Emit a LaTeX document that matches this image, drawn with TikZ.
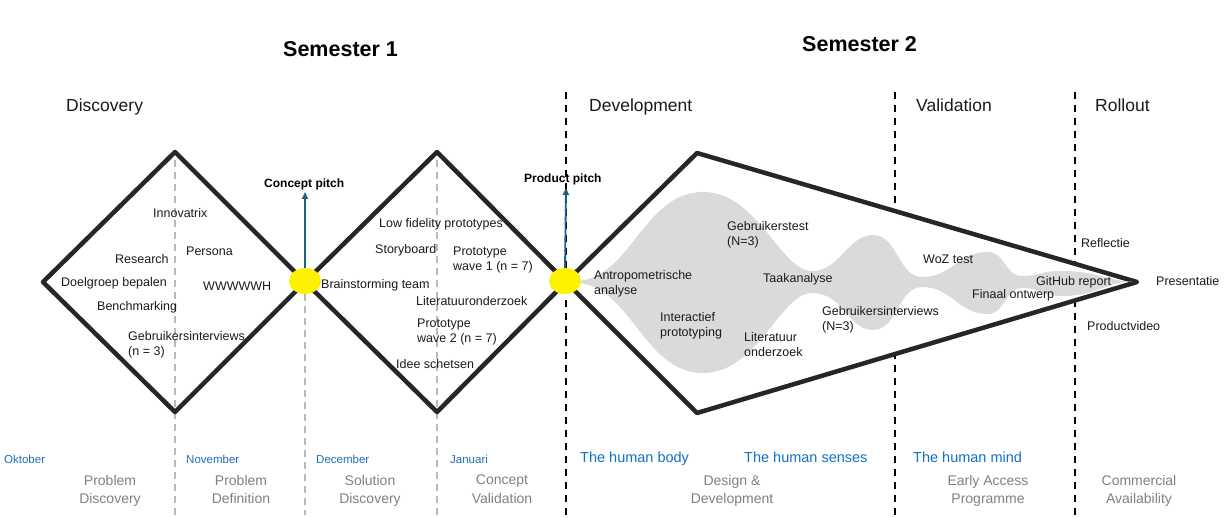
\documentclass[tikz,border=0pt]{standalone}
\usepackage{fontspec}
\setmainfont{Liberation Sans}
\usetikzlibrary{arrows.meta,shapes.geometric}

\definecolor{ink}{HTML}{262626}
\definecolor{txt}{HTML}{1A1A1A}
\definecolor{blobgray}{HTML}{DADADA}
\definecolor{pitchblue}{HTML}{1F5F80}
\definecolor{monthblue}{HTML}{1F6FB8}
\definecolor{themeblue}{HTML}{1170C4}
\definecolor{phasegray}{HTML}{808080}
\definecolor{guidegray}{HTML}{B8B8B8}
\definecolor{gateyellow}{HTML}{FFF200}

\tikzset{
  lbl/.style={anchor=base west, inner sep=0pt, text=txt, font=\fontsize{12.5}{15}\selectfont},
  lbltwo/.style={anchor=north west, inner sep=0pt, text=txt, align=left, font=\fontsize{12.5}{15}\selectfont},
  hdr/.style={anchor=base west, inner sep=0pt, text=txt, font=\fontsize{17.5}{20}\selectfont},
  sem/.style={anchor=base west, inner sep=0pt, text=black, font=\bfseries\fontsize{21.5}{24}\selectfont},
  pitch/.style={anchor=base west, inner sep=0pt, text=black, font=\bfseries\fontsize{12}{14}\selectfont},
  month/.style={anchor=base west, inner sep=0pt, text=monthblue, font=\fontsize{11.5}{13}\selectfont},
  theme/.style={anchor=base west, inner sep=0pt, text=themeblue, font=\fontsize{14.5}{17}\selectfont},
  phase/.style={anchor=north, inner sep=0pt, align=center, text=phasegray, font=\fontsize{14}{18.5}\selectfont},
  guide/.style={guidegray, line width=1.8pt, dash pattern=on 7pt off 5pt},
  border/.style={black, line width=2.6pt, dash pattern=on 7pt off 6pt},
  outline/.style={ink, line width=4.5pt, line join=round},
  gate/.style={ellipse, fill=gateyellow, minimum width=32pt, minimum height=26pt, inner sep=0pt},
  pitcharrow/.style={pitchblue, line width=1.8pt, -{Triangle[length=7pt,width=6pt]}},
}

\begin{document}
\begin{tikzpicture}[x=1pt,y=-1pt]
\useasboundingbox (0,0) rectangle (1227,518);

% thin grey month separators
\draw[guide] (175,160) -- (175,515);
\draw[guide] (305,294) -- (305,515);
\draw[guide] (437,160) -- (437,515);

% phase borders
\draw[border] (566,92) -- (566,515);
\draw[border] (895,92) -- (895,515);
\draw[border] (1075,92) -- (1075,515);

% double diamond
\draw[outline] (43,282) -- (175,152) -- (305,282) -- (175,412) -- cycle;
\draw[outline] (305,282) -- (437,152) -- (566,282) -- (437,412) -- cycle;

% development funnel
\draw[outline, fill=white] (566,282) -- (697,153) -- (1137,282) -- (697,413) -- cycle;
\fill[blobgray] (575,281)
  .. controls +(55,0) and +(-60,0) .. (703,192)
  .. controls +(55,0) and +(-32,0) .. (812,271)
  .. controls +(28,0) and +(-25,0) .. (873,235)
  .. controls +(25,0) and +(-24,0) .. (922,277)
  .. controls +(30,0) and +(-30,0) .. (988,252)
  .. controls +(17,0) and +(-17,0) .. (1022,276)
  .. controls +(20,0) and +(-25,0) .. (1062,271)
  .. controls +(35,0) and +(-25,0) .. (1132,281.5)
  .. controls +(-25,0) and +(35,0) .. (1062,296)
  .. controls +(-25,0) and +(20,0) .. (1022,288)
  .. controls +(-17,0) and +(17,0) .. (988,314)
  .. controls +(-30,0) and +(30,0) .. (922,287)
  .. controls +(-24,0) and +(25,0) .. (873,330)
  .. controls +(-25,0) and +(32,0) .. (812,293)
  .. controls +(-32,0) and +(55,0) .. (703,373)
  .. controls +(-60,0) and +(55,0) .. (575,283)
  -- cycle;

% decision gates and pitches
\node[gate] (gateA) at (305,281) {};
\node[gate] (gateB) at (565,281) {};
\coordinate (pitchA) at (305,192);
\coordinate (pitchB) at (566,188);
\draw[pitcharrow] (gateA.north) -- (pitchA);
\draw[pitcharrow] (gateB.north) -- (pitchB);
\node[pitch] (conceptpitch) at (264,187.5) {Concept pitch};
\node[pitch] (productpitch) at (524,182.5) {Product pitch};

% titles
\node[sem] (sem1) at (283,57) {Semester 1};
\node[sem] (sem2) at (802,52) {Semester 2};
\node[hdr] (hdiscovery) at (66,111.5) {Discovery};
\node[hdr] (hdevelopment) at (589,111.5) {Development};
\node[hdr] (hvalidation) at (916,111.5) {Validation};
\node[hdr] (hrollout) at (1095,111.5) {Rollout};

% first diamond
\node[lbl] (innovatrix) at (153,217.5) {Innovatrix};
\node[lbl] (research) at (115,263.5) {Research};
\node[lbl] (persona) at (186,255.5) {Persona};
\node[lbl] (doelgroep) at (61,286.5) {Doelgroep bepalen};
\node[lbl] (wh) at (203,290.5) {WWWWWH};
\node[lbl] (benchmarking) at (97,310.5) {Benchmarking};
\node[lbltwo] (interviewsA) at (128,331) {Gebruikersinterviews\\(n = 3)};

% second diamond
\node[lbl] (lowfi) at (379,227.5) {Low fidelity prototypes};
\node[lbl] (storyboard) at (375,253.5) {Storyboard};
\node[lbltwo] (waveone) at (453,247) {Prototype\\wave 1 (n = 7)};
\node[lbl] (brainstorm) at (321,288.5) {Brainstorming team};
\node[lbl] (literatuurA) at (416,305.5) {Literatuuronderzoek};
\node[lbltwo] (wavetwo) at (417,319) {Prototype\\wave 2 (n = 7)};
\node[lbl] (idee) at (396,368.5) {Idee schetsen};

% funnel
\node[lbltwo] (antropo) at (594,270) {Antropometrische\\analyse};
\node[lbltwo] (usertest) at (727,221) {Gebruikerstest\\(N=3)};
\node[lbl] (taak) at (763,282.5) {Taakanalyse};
\node[lbltwo] (interactief) at (660,312) {Interactief\\prototyping};
\node[lbltwo] (literatuurB) at (744,332) {Literatuur\\onderzoek};
\node[lbltwo] (interviewsB) at (822,306) {Gebruikersinterviews\\(N=3)};
\node[lbl] (woz) at (923,263.5) {WoZ test};
\node[lbl] (github) at (1036,285.5) {GitHub report};
\node[lbl] (finaal) at (972,298.5) {Finaal ontwerp};

% rollout
\node[lbl] (reflectie) at (1081,247.5) {Reflectie};
\node[lbl] (presentatie) at (1156,285.5) {Presentatie};
\node[lbl] (video) at (1087,330.5) {Productvideo};

% months and themes
\node[month] (okt) at (4,463.2) {Oktober};
\node[month] (nov) at (186,463.2) {November};
\node[month] (dec) at (316,463.2) {December};
\node[month] (jan) at (450,463.2) {Januari};
\node[theme] (body) at (580,463) {The human body};
\node[theme] (senses) at (744,463) {The human senses};
\node[theme] (mind) at (913,463) {The human mind};

% phases
\node[phase] (ph1) at (110,475) {Problem\\Discovery};
\node[phase] (ph2) at (241,475) {Problem\\Definition};
\node[phase] (ph3) at (370,475) {Solution\\Discovery};
\node[phase] (ph4) at (502,475) {Concept\\Validation};
\node[phase] (ph5) at (732,475) {Design \&\\Development};
\node[phase] (ph6) at (988,475) {Early Access\\Programme};
\node[phase] (ph7) at (1139,475) {Commercial\\Availability};
\end{tikzpicture}
\end{document}
